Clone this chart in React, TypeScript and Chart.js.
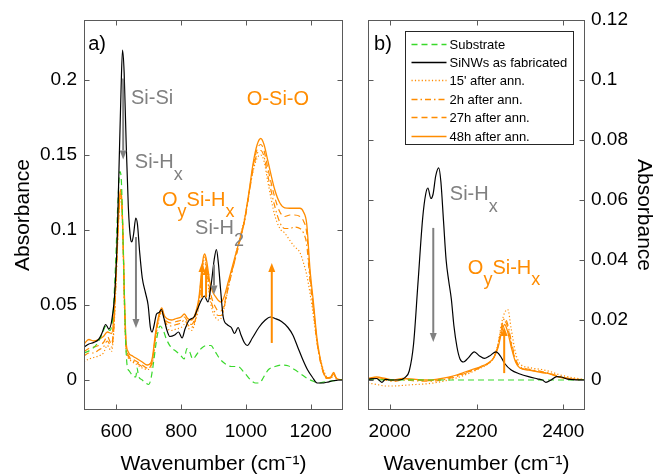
import React, { useEffect, useRef } from 'react';
import { Chart, registerables } from 'chart.js';
Chart.register(...registerables);

const FONT = '"Liberation Sans", Arial, Helvetica, sans-serif';
const ORANGE = '#FF8C00';
const GRAY = '#808080';
const GREEN = '#39D92B';

// ---------- tick values / labels ----------
const xTicksA = [600, 800, 1000, 1200];
const xTickLabelsA = ['600', '800', '1000', '1200'];
const yTicksA = [0, 0.05, 0.1, 0.15, 0.2];
const yTickLabelsA = ['0', '0.05', '0.1', '0.15', '0.2'];
const xTicksB = [2000, 2200, 2400];
const xTickLabelsB = ['2000', '2200', '2400'];
const yTicksB = [0, 0.02, 0.04, 0.06, 0.08, 0.1, 0.12];
const yTickLabelsB = ['0', '0.02', '0.04', '0.06', '0.08', '0.1', '0.12'];

const seriesNames = ['Substrate', 'SiNWs as fabricated', "15' after ann.", '2h after ann.', '27h after ann.', '48h after ann.'];

// ---------- panel a) 500-1300 cm-1 ----------
const xBlackA = [500, 515, 530, 545, 555, 567, 577, 586, 594, 602, 608, 614, 619, 624, 630, 637, 644, 648, 653, 660, 665, 672, 680, 690, 698, 705, 710, 716, 724, 732, 739, 746, 755, 765, 780, 792, 803, 812, 825, 840, 850, 862, 872, 883, 893, 902, 909, 915, 922, 930, 942, 955, 965, 976, 985, 995, 1004, 1020, 1040, 1060, 1075, 1090, 1110, 1130, 1145, 1160, 1175, 1190, 1205, 1220, 1235, 1250, 1270, 1300];
const yBlackA = [0.022, 0.024, 0.025, 0.027, 0.031, 0.037, 0.034, 0.040, 0.055, 0.090, 0.140, 0.190, 0.220, 0.205, 0.160, 0.115, 0.094, 0.092, 0.097, 0.108, 0.104, 0.085, 0.068, 0.058, 0.050, 0.035, 0.032, 0.036, 0.044, 0.045, 0.047, 0.042, 0.034, 0.029, 0.030, 0.032, 0.028, 0.034, 0.040, 0.042, 0.047, 0.053, 0.056, 0.052, 0.064, 0.080, 0.087, 0.078, 0.060, 0.042, 0.037, 0.035, 0.031, 0.035, 0.030, 0.025, 0.023, 0.028, 0.035, 0.040, 0.042, 0.041, 0.039, 0.035, 0.030, 0.022, 0.014, 0.007, 0.002, -0.002, -0.002, -0.0015, -0.0005, 0.0];

const xSubA = [500, 520, 540, 555, 568, 580, 590, 598, 605, 611, 616, 622, 628, 633, 640, 650, 660, 664, 668, 680, 690, 700, 706, 715, 725, 735, 745, 755, 768, 785, 800, 809, 818, 826, 836, 848, 862, 878, 892, 905, 920, 935, 955, 975, 995, 1015, 1030, 1042, 1055, 1070, 1090, 1110, 1130, 1150, 1170, 1190, 1210, 1225, 1250, 1275, 1300];
const ySubA = [0.018, 0.020, 0.024, 0.030, 0.036, 0.033, 0.045, 0.080, 0.120, 0.139, 0.130, 0.080, 0.030, 0.010, 0.006, 0.003, 0.002, 0.008, 0.003, 0.000, -0.002, -0.003, 0.000, 0.012, 0.028, 0.036, 0.033, 0.027, 0.022, 0.019, 0.016, 0.014, 0.021, 0.019, 0.014, 0.017, 0.021, 0.023, 0.023, 0.019, 0.014, 0.011, 0.009, 0.009, 0.005, 0.000, -0.002, -0.002, 0.002, 0.007, 0.009, 0.010, 0.0095, 0.007, 0.004, 0.001, -0.001, -0.002, -0.001, -0.0005, 0.0];

const xOrangeA = [500, 515, 530, 545, 560, 572, 585, 592, 598, 604, 609, 613, 617, 621, 625, 630, 636, 650, 665, 680, 695, 705, 712, 720, 730, 740, 748, 756, 770, 785, 800, 810, 820, 832, 845, 855, 862, 868, 873, 880, 888, 897, 905, 915, 923, 932, 945, 955, 970, 985, 996, 1010, 1022, 1035, 1046, 1056, 1068, 1089, 1105, 1120, 1136, 1150, 1167, 1178, 1188, 1198, 1209, 1219, 1235, 1250, 1262, 1271, 1280, 1300];
const y48hA = [0.024, 0.027, 0.026, 0.027, 0.029, 0.032, 0.031, 0.042, 0.068, 0.098, 0.120, 0.127, 0.119, 0.092, 0.055, 0.026, 0.019, 0.016, 0.014, 0.012, 0.010, 0.011, 0.016, 0.030, 0.042, 0.048, 0.043, 0.041, 0.040, 0.041, 0.042, 0.044, 0.041, 0.040, 0.045, 0.055, 0.070, 0.081, 0.084, 0.078, 0.066, 0.059, 0.056, 0.053, 0.052, 0.055, 0.065, 0.073, 0.085, 0.097, 0.107, 0.126, 0.144, 0.157, 0.161, 0.157, 0.146, 0.127, 0.118, 0.1148, 0.1145, 0.1145, 0.1145, 0.112, 0.104, 0.074, 0.051, 0.029, 0.009, 0.0015, 0.002, 0.005, 0.001, 0.0];
const y27hA = [0.019, 0.021, 0.022, 0.023, 0.025, 0.029, 0.024, 0.036, 0.064, 0.095, 0.118, 0.125, 0.117, 0.090, 0.052, 0.023, 0.017, 0.014, 0.012, 0.010, 0.008, 0.009, 0.014, 0.028, 0.041, 0.047, 0.042, 0.039, 0.038, 0.039, 0.040, 0.042, 0.039, 0.037, 0.043, 0.053, 0.068, 0.080, 0.082, 0.075, 0.061, 0.053, 0.049, 0.046, 0.046, 0.050, 0.062, 0.071, 0.083, 0.096, 0.106, 0.125, 0.142, 0.154, 0.157, 0.153, 0.141, 0.122, 0.112, 0.109, 0.110, 0.110, 0.109, 0.106, 0.098, 0.070, 0.048, 0.027, 0.008, 0.001, 0.0015, 0.004, 0.001, 0.0];
const y2hA = [0.016, 0.018, 0.018, 0.020, 0.022, 0.026, 0.022, 0.034, 0.062, 0.093, 0.116, 0.124, 0.116, 0.089, 0.050, 0.021, 0.016, 0.013, 0.011, 0.009, 0.008, 0.009, 0.013, 0.027, 0.040, 0.046, 0.041, 0.037, 0.036, 0.037, 0.038, 0.040, 0.037, 0.035, 0.041, 0.051, 0.066, 0.078, 0.080, 0.073, 0.058, 0.049, 0.045, 0.043, 0.043, 0.048, 0.061, 0.070, 0.083, 0.096, 0.106, 0.124, 0.140, 0.151, 0.153, 0.149, 0.136, 0.116, 0.105, 0.101, 0.101, 0.102, 0.101, 0.098, 0.090, 0.066, 0.046, 0.026, 0.008, 0.001, 0.0015, 0.004, 0.001, 0.0];
const y15mA = [0.012, 0.014, 0.015, 0.016, 0.018, 0.023, 0.019, 0.032, 0.060, 0.092, 0.114, 0.122, 0.114, 0.087, 0.048, 0.020, 0.015, 0.012, 0.010, 0.008, 0.007, 0.008, 0.012, 0.026, 0.039, 0.045, 0.040, 0.035, 0.033, 0.034, 0.035, 0.037, 0.035, 0.033, 0.040, 0.050, 0.064, 0.076, 0.078, 0.071, 0.055, 0.046, 0.042, 0.040, 0.041, 0.047, 0.061, 0.071, 0.085, 0.098, 0.108, 0.125, 0.139, 0.148, 0.150, 0.146, 0.132, 0.110, 0.101, 0.098, 0.093, 0.089, 0.085, 0.078, 0.070, 0.058, 0.042, 0.026, 0.010, 0.002, 0.001, 0.003, 0.001, 0.0];

// ---------- panel b) 1950-2450 cm-1 ----------
const xBlackB = [1950, 1970, 1982, 1990, 2000, 2020, 2035, 2045, 2055, 2065, 2076, 2083, 2088, 2095, 2100, 2106, 2113, 2118, 2124, 2130, 2136, 2142, 2148, 2155, 2162, 2170, 2180, 2195, 2207, 2218, 2230, 2245, 2255, 2265, 2280, 2300, 2320, 2340, 2352, 2360, 2372, 2385, 2395, 2410, 2450];
const yBlackB = [0.0003, 0.0005, -0.0008, 0.0002, 0.0, 0.0, 0.0008, 0.003, 0.012, 0.032, 0.054, 0.062, 0.064, 0.0605, 0.062, 0.068, 0.0707, 0.066, 0.053, 0.040, 0.033, 0.027, 0.018, 0.011, 0.007, 0.006, 0.0072, 0.0094, 0.008, 0.0072, 0.008, 0.0094, 0.008, 0.0055, 0.0033, 0.002, 0.0011, 0.0004, 0.0, -0.0008, 0.0, 0.0011, 0.001, 0.0003, 0.0];

const xSubB = [1950, 2100, 2250, 2450];
const ySubB = [0.0001, 0.0, 0.0, 0.0];

const xOrangeB = [1950, 1970, 1990, 2010, 2030, 2060, 2090, 2110, 2130, 2150, 2170, 2190, 2210, 2225, 2240, 2250, 2258, 2265, 2272, 2280, 2290, 2300, 2320, 2350, 2370, 2390, 2420, 2450];
const y48hB = [0.0005, 0.001, 0.0005, 0.0, 0.0005, 0.0002, 0.0, 0.0003, 0.0008, 0.0015, 0.0025, 0.0035, 0.0045, 0.0055, 0.0075, 0.011, 0.016, 0.0185, 0.016, 0.011, 0.006, 0.004, 0.0033, 0.0025, 0.002, 0.001, 0.0003, 0.0];
const y27hB = [0.0003, 0.0008, 0.0003, -0.0002, 0.0003, 0.0, -0.0002, 0.0001, 0.0006, 0.0013, 0.0022, 0.0032, 0.0043, 0.0053, 0.0075, 0.0115, 0.017, 0.0195, 0.0175, 0.012, 0.0065, 0.0042, 0.0034, 0.0026, 0.002, 0.001, 0.0003, 0.0];
const y2hB = [0.0, 0.0005, 0.0, -0.0005, 0.0, -0.0003, -0.0004, -0.0002, 0.0003, 0.001, 0.002, 0.003, 0.0042, 0.0053, 0.0075, 0.012, 0.018, 0.0205, 0.0185, 0.013, 0.007, 0.0045, 0.0036, 0.0028, 0.0022, 0.0012, 0.0004, 0.0];
const y15mB = [-0.001, -0.0015, -0.002, -0.002, -0.0018, -0.0015, -0.0012, -0.0008, -0.0002, 0.0005, 0.0015, 0.0027, 0.004, 0.0052, 0.0075, 0.0125, 0.019, 0.0225, 0.0235, 0.017, 0.009, 0.0055, 0.0042, 0.0035, 0.0028, 0.0018, 0.0008, 0.0002];

// ---------- annotations (data coordinates) ----------
type Part = { t: string; sub?: boolean };
type Txt = { x: number; y: number; parts: Part[]; color: string; size: number };
type Arr = { x: number; y0: number; y1: number; color: string };

const textsA: Txt[] = [
  { x: 513, y: 0.224, parts: [{ t: 'a)' }], color: '#000', size: 20 },
  { x: 645, y: 0.188, parts: [{ t: 'Si-Si' }], color: GRAY, size: 20 },
  { x: 657, y: 0.1447, parts: [{ t: 'Si-H' }, { t: 'x', sub: true }], color: GRAY, size: 20 },
  { x: 741, y: 0.12, parts: [{ t: 'O' }, { t: 'y', sub: true }, { t: 'Si-H' }, { t: 'x', sub: true }], color: ORANGE, size: 20 },
  { x: 843, y: 0.101, parts: [{ t: 'Si-H' }, { t: '2', sub: true }], color: GRAY, size: 20 },
  { x: 1003, y: 0.1867, parts: [{ t: 'O-Si-O' }], color: ORANGE, size: 20 },
];
const arrowsA: Arr[] = [
  { x: 621, y0: 0.201, y1: 0.147, color: GRAY },
  { x: 660.5, y0: 0.0953, y1: 0.0347, color: GRAY },
  { x: 864.5, y0: 0.055, y1: 0.078, color: ORANGE },
  { x: 877, y0: 0.055, y1: 0.076, color: ORANGE },
  { x: 901.5, y0: 0.077, y1: 0.057, color: GRAY },
  { x: 1080, y0: 0.0247, y1: 0.078, color: ORANGE },
];
const textsB: Txt[] = [
  { x: 1964, y: 0.112, parts: [{ t: 'b)' }], color: '#000', size: 20 },
  { x: 2138.5, y: 0.0617, parts: [{ t: 'Si-H' }, { t: 'x', sub: true }], color: GRAY, size: 20 },
  { x: 2180, y: 0.0373, parts: [{ t: 'O' }, { t: 'y', sub: true }, { t: 'Si-H' }, { t: 'x', sub: true }], color: ORANGE, size: 20 },
];
const arrowsB: Arr[] = [
  { x: 2100.4, y0: 0.0507, y1: 0.0127, color: GRAY },
  { x: 2263.8, y0: 0.0023, y1: 0.0177, color: ORANGE },
];

const styles = [
  { color: GREEN, dash: [6, 4], width: 1.2 },
  { color: '#000000', dash: [], width: 1.2 },
  { color: ORANGE, dash: [1.2, 2.2], width: 1.2 },
  { color: ORANGE, dash: [6, 3, 1.5, 3], width: 1.2 },
  { color: ORANGE, dash: [6, 4], width: 1.2 },
  { color: ORANGE, dash: [], width: 1.3 },
];

const pts = (xs: number[], ys: number[]) => xs.map((x, i) => ({ x, y: ys[i] }));

function ds(idx: number, data: { x: number; y: number }[]) {
  const s = styles[idx];
  return {
    label: seriesNames[idx],
    data,
    borderColor: s.color,
    backgroundColor: s.color,
    borderDash: s.dash,
    borderWidth: s.width,
    pointRadius: 0,
    fill: false,
    cubicInterpolationMode: 'monotone' as const,
  };
}

function drawArrow(ctx: CanvasRenderingContext2D, x: number, yBase: number, yTip: number, color: string) {
  const headLen = 9, headW = 7;
  const dir = yTip > yBase ? 1 : -1;
  ctx.save();
  ctx.strokeStyle = color;
  ctx.fillStyle = color;
  ctx.lineWidth = 2;
  ctx.setLineDash([]);
  ctx.beginPath();
  ctx.moveTo(x, yBase);
  ctx.lineTo(x, yTip - dir * headLen);
  ctx.stroke();
  ctx.beginPath();
  ctx.moveTo(x, yTip);
  ctx.lineTo(x - headW / 2, yTip - dir * headLen);
  ctx.lineTo(x + headW / 2, yTip - dir * headLen);
  ctx.closePath();
  ctx.fill();
  ctx.restore();
}

function drawRich(ctx: CanvasRenderingContext2D, x: number, y: number, parts: Part[], color: string, size: number) {
  ctx.save();
  ctx.fillStyle = color;
  ctx.textBaseline = 'middle';
  ctx.textAlign = 'left';
  let cx = x;
  for (const p of parts) {
    const s = p.sub ? size * 0.9 : size;
    ctx.font = `${s}px ${FONT}`;
    ctx.fillText(p.t, cx, y + (p.sub ? size * 0.62 : 0));
    cx += ctx.measureText(p.t).width;
  }
  ctx.restore();
}

function makeDeco(cfg: { xTicks: number[]; yTicks: number[]; texts: Txt[]; arrows: Arr[]; legend: boolean }) {
  return {
    id: 'deco',
    afterDatasetsDraw(chart: any) {
      const ctx: CanvasRenderingContext2D = chart.ctx;
      const { left, right, top, bottom } = chart.chartArea;
      const xs = chart.scales.x;
      const ys = chart.scales.y;
      ctx.save();
      ctx.strokeStyle = '#5a5a5a';
      ctx.lineWidth = 1;
      ctx.setLineDash([]);
      const L = Math.round(left) + 0.5, R = Math.round(right) - 0.5, T = Math.round(top) + 0.5, B = Math.round(bottom) - 0.5;
      ctx.strokeRect(L, T, R - L, B - T);
      const tl = 5;
      ctx.beginPath();
      for (const v of cfg.xTicks) {
        const px = Math.round(xs.getPixelForValue(v)) + 0.5;
        ctx.moveTo(px, B); ctx.lineTo(px, B - tl);
        ctx.moveTo(px, T); ctx.lineTo(px, T + tl);
      }
      for (const v of cfg.yTicks) {
        const py = Math.round(ys.getPixelForValue(v)) + 0.5;
        ctx.moveTo(L, py); ctx.lineTo(L + tl, py);
        ctx.moveTo(R, py); ctx.lineTo(R - tl, py);
      }
      ctx.stroke();
      ctx.restore();

      for (const a of cfg.arrows) {
        drawArrow(ctx, xs.getPixelForValue(a.x), ys.getPixelForValue(a.y0), ys.getPixelForValue(a.y1), a.color);
      }
      for (const t of cfg.texts) {
        drawRich(ctx, xs.getPixelForValue(t.x), ys.getPixelForValue(t.y), t.parts, t.color, t.size);
      }

      if (cfg.legend) {
        const lx = Math.round(left + 37) + 0.5;
        const ly = Math.round(top + 11) + 0.5;
        const lw = 168, lh = 113;
        ctx.save();
        ctx.fillStyle = '#ffffff';
        ctx.fillRect(lx, ly, lw, lh);
        ctx.strokeStyle = '#262626';
        ctx.lineWidth = 1;
        ctx.strokeRect(lx, ly, lw, lh);
        ctx.font = `13px ${FONT}`;
        ctx.textBaseline = 'middle';
        ctx.textAlign = 'left';
        seriesNames.forEach((name, i) => {
          const s = styles[i];
          const cy = Math.round(ly + 12 + i * 18.4) + 0.5;
          ctx.strokeStyle = s.color;
          ctx.lineWidth = 1.3;
          ctx.setLineDash(s.dash);
          ctx.beginPath();
          ctx.moveTo(lx + 6, cy);
          ctx.lineTo(lx + 41, cy);
          ctx.stroke();
          ctx.fillStyle = '#000';
          ctx.fillText(name, lx + 44, cy + 0.5);
        });
        ctx.restore();
      }
    },
  };
}

const tickFont = { family: FONT, size: 19 };
const titleFont = { family: FONT, size: 21, lineHeight: 0.9 };

function labelFrom(ticks: number[], labels: string[]) {
  return (v: any) => {
    const i = ticks.findIndex((t) => Math.abs(t - Number(v)) < 1e-9);
    return i >= 0 ? labels[i] : '';
  };
}

const noGrid = { display: false, drawTicks: false, tickLength: 0 };

export default function App() {
  const refA = useRef<HTMLCanvasElement>(null);
  const refB = useRef<HTMLCanvasElement>(null);

  useEffect(() => {
    const chartA = new Chart(refA.current!, {
      type: 'line',
      data: {
        datasets: [
          ds(1, pts(xBlackA, yBlackA)),
          ds(0, pts(xSubA, ySubA)),
          ds(5, pts(xOrangeA, y48hA)),
          ds(4, pts(xOrangeA, y27hA)),
          ds(3, pts(xOrangeA, y2hA)),
          ds(2, pts(xOrangeA, y15mA)),
        ],
      },
      options: {
        responsive: false,
        animation: false,
        events: [],
        layout: { padding: { left: 0, top: 20, right: 7, bottom: 0 } },
        plugins: { legend: { display: false }, tooltip: { enabled: false } },
        scales: {
          x: {
            type: 'linear',
            min: 500,
            max: 1300,
            afterBuildTicks: (s: any) => { s.ticks = xTicksA.map((v) => ({ value: v })); },
            afterFit: (s: any) => { s.height = 64; },
            grid: noGrid,
            border: { display: false },
            ticks: { font: tickFont, color: '#000', padding: 10, maxRotation: 0, autoSkip: false, callback: labelFrom(xTicksA, xTickLabelsA) },
            title: { display: true, text: 'Wavenumber (cm⁻¹)', font: titleFont, color: '#000', padding: { top: 0, bottom: 0 } },
          },
          y: {
            type: 'linear',
            min: -0.02,
            max: 0.24,
            afterBuildTicks: (s: any) => { s.ticks = yTicksA.map((v) => ({ value: v })); },
            afterFit: (s: any) => { s.width = 84; },
            grid: noGrid,
            border: { display: false },
            ticks: { font: tickFont, color: '#000', padding: 7, autoSkip: false, callback: labelFrom(yTicksA, yTickLabelsA) },
            title: { display: true, text: 'Absorbance', font: titleFont, color: '#000', padding: { top: 14, bottom: 0 } },
          },
        },
      },
      plugins: [makeDeco({ xTicks: xTicksA, yTicks: yTicksA, texts: textsA, arrows: arrowsA, legend: false })],
    } as any);

    const chartB = new Chart(refB.current!, {
      type: 'line',
      data: {
        datasets: [
          ds(1, pts(xBlackB, yBlackB)),
          ds(0, pts(xSubB, ySubB)),
          ds(5, pts(xOrangeB, y48hB)),
          ds(4, pts(xOrangeB, y27hB)),
          ds(3, pts(xOrangeB, y2hB)),
          ds(2, pts(xOrangeB, y15mB)),
        ],
      },
      options: {
        responsive: false,
        animation: false,
        events: [],
        layout: { padding: { left: 18, top: 20, right: 0, bottom: 0 } },
        plugins: { legend: { display: false }, tooltip: { enabled: false } },
        scales: {
          x: {
            type: 'linear',
            min: 1950,
            max: 2450,
            afterBuildTicks: (s: any) => { s.ticks = xTicksB.map((v) => ({ value: v })); },
            afterFit: (s: any) => { s.height = 64; },
            grid: noGrid,
            border: { display: false },
            ticks: { font: tickFont, color: '#000', padding: 10, maxRotation: 0, autoSkip: false, callback: labelFrom(xTicksB, xTickLabelsB) },
            title: { display: true, text: 'Wavenumber (cm⁻¹)', font: titleFont, color: '#000', padding: { top: 0, bottom: 0 } },
          },
          y: {
            type: 'linear',
            position: 'right',
            min: -0.01,
            max: 0.12,
            afterBuildTicks: (s: any) => { s.ticks = yTicksB.map((v) => ({ value: v })); },
            afterFit: (s: any) => { s.width = 73; },
            grid: noGrid,
            border: { display: false },
            ticks: { font: tickFont, color: '#000', padding: 6, autoSkip: false, callback: labelFrom(yTicksB, yTickLabelsB) },
            title: { display: true, text: 'Absorbance', font: titleFont, color: '#000', padding: { top: 5, bottom: 0 } },
          },
        },
      },
      plugins: [makeDeco({ xTicks: xTicksB, yTicks: yTicksB, texts: textsB, arrows: arrowsB, legend: true })],
    } as any);

    return () => {
      chartA.destroy();
      chartB.destroy();
    };
  }, []);

  return (
    <div style={{ position: 'absolute', left: 0, top: 0, width: 658, height: 474, overflow: 'hidden', background: '#fff' }}>
      <canvas ref={refA} width={350} height={474} style={{ position: 'absolute', left: 0, top: 0, width: 350, height: 474 }} />
      <canvas ref={refB} width={308} height={474} style={{ position: 'absolute', left: 350, top: 0, width: 308, height: 474 }} />
    </div>
  );
}
